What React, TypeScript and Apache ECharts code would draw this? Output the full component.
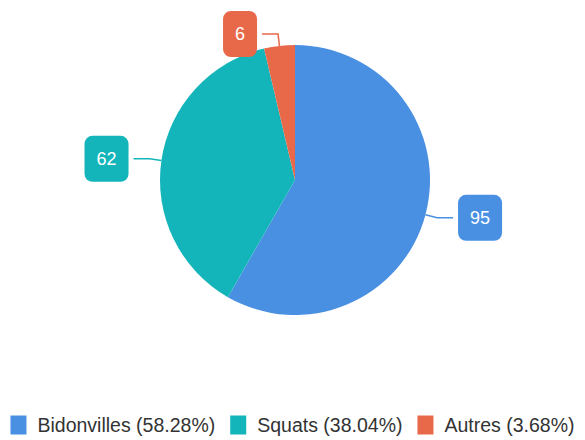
import React, { useEffect, useRef } from "react";
import * as echarts from "echarts";

const categories = ["Bidonvilles", "Squats", "Autres"];
const values = [95, 62, 6];
const colors = ["#4A90E2", "#13B5BB", "#E8684A"];

export default function App() {
  const ref = useRef<HTMLDivElement>(null);
  useEffect(() => {
    const chart = echarts.init(ref.current!, null, { renderer: "svg" });
    const total = values.reduce((a, b) => a + b, 0);
    const pct = (name: string) => {
      const i = categories.indexOf(name);
      return ((values[i] / total) * 100).toFixed(2);
    };
    chart.setOption({
      animation: false,
      color: colors,
      legend: {
        top: 410,
        left: "center",
        icon: "rect",
        itemWidth: 16,
        itemHeight: 19,
        itemGap: 15,
        textStyle: {
          fontSize: 19.5,
          color: "#333",
          fontFamily: "Liberation Sans",
          padding: [0, 0, 0, 6],
        },
        formatter: (name: string) => `${name} (${pct(name)}%)`,
      },
      series: [
        {
          type: "pie",
          center: [295, 180],
          radius: 135,
          startAngle: 90,
          clockwise: true,
          label: {
            show: true,
            position: "outside",
            formatter: "{c}",
            color: "#fff",
            fontSize: 18,
            fontFamily: "Liberation Sans",
            backgroundColor: "inherit",
            borderRadius: 8,
            padding: [14, 12],
          },
          labelLine: {
            show: true,
            length: 12,
            length2: 16,
            lineStyle: { width: 1.5 },
          },
          data: categories.map((c, i) => ({ name: c, value: values[i] })),
        },
      ],
    });
    return () => chart.dispose();
  }, []);
  return (
    <div
      ref={ref}
      style={{ position: "absolute", left: 0, top: 0, width: 585, height: 440 }}
    />
  );
}
